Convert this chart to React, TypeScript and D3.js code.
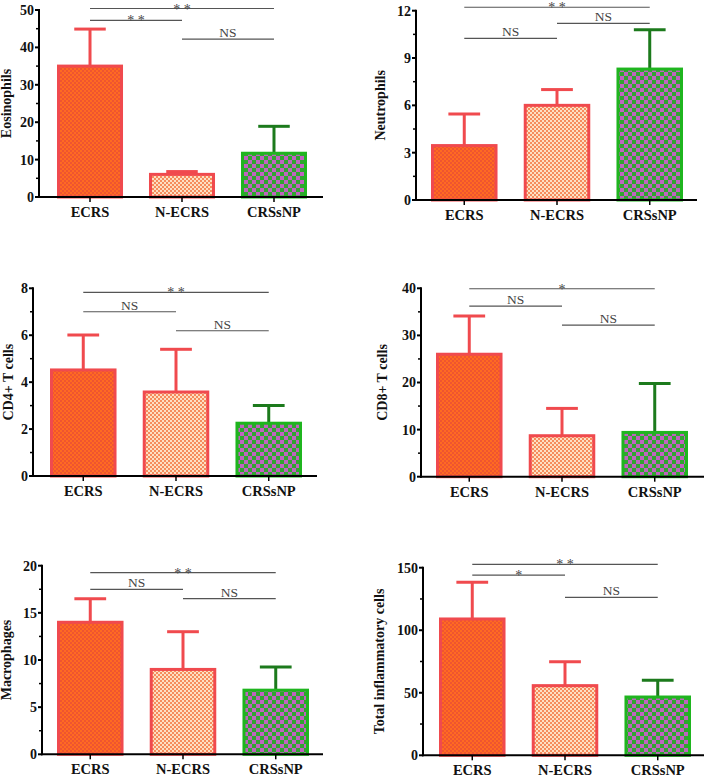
import React from 'react';
import * as d3 from 'd3';

const categories = ['ECRS', 'N-ECRS', 'CRSsNP'];

const panelTitles = ['Eosinophils', 'Neutrophils', 'CD4+ T cells', 'CD8+ T cells', 'Macrophages', 'Total inflammatory cells'];

const eosMeans = [35.0, 6.05, 11.7];
const eosSD = [9.9, 0.75, 7.2];
const eosTicks = [0, 10, 20, 30, 40, 50];

const neuMeans = [3.45, 6.0, 8.3];
const neuSD = [2.0, 1.0, 2.5];
const neuTicks = [0, 3, 6, 9, 12];

const cd4Means = [4.52, 3.58, 2.25];
const cd4SD = [1.49, 1.82, 0.76];
const cd4Ticks = [0, 2, 4, 6, 8];

const cd8Means = [26.0, 8.7, 9.4];
const cd8SD = [8.1, 5.8, 10.4];
const cd8Ticks = [0, 10, 20, 30, 40];

const macMeans = [14.0, 9.0, 6.8];
const macSD = [2.5, 4.0, 2.45];
const macTicks = [0, 5, 10, 15, 20];

const totMeans = [109, 55.7, 46.6];
const totSD = [29.3, 19.1, 13.4];
const totTicks = [0, 50, 100, 150];

// significance brackets: [from group, to group, label, level in data units]
const eosSig: [number, number, string, number][] = [[0, 2, '* *', 50.4], [0, 1, '* *', 47.2], [1, 2, 'NS', 42.2]];
const neuSig: [number, number, string, number][] = [[0, 2, '* *', 12.22], [1, 2, 'NS', 11.2], [0, 1, 'NS', 10.25]];
const cd4Sig: [number, number, string, number][] = [[0, 2, '* *', 7.83], [0, 1, 'NS', 7.0], [1, 2, 'NS', 6.19]];
const cd8Sig: [number, number, string, number][] = [[0, 2, '*', 39.9], [0, 1, 'NS', 36.2], [1, 2, 'NS', 32.2]];
const macSig: [number, number, string, number][] = [[0, 2, '* *', 19.26], [0, 1, 'NS', 17.5], [1, 2, 'NS', 16.5]];
const totSig: [number, number, string, number][] = [[0, 2, '* *', 152.7], [0, 1, '*', 144.1], [1, 2, 'NS', 126.3]];

const panelMeans = [eosMeans, neuMeans, cd4Means, cd8Means, macMeans, totMeans];
const panelSD = [eosSD, neuSD, cd4SD, cd8SD, macSD, totSD];
const panelTicks = [eosTicks, neuTicks, cd4Ticks, cd8Ticks, macTicks, totTicks];
const panelSig = [eosSig, neuSig, cd4Sig, cd8Sig, macSig, totSig];

// layout (pixels)
const layouts = [
  { axisX: 39, axisEnd: 323, yTop: 10, yBottom: 197, barStart: 57, barEnd: 307, labelX: 11 },
  { axisX: 416, axisEnd: 697, yTop: 10.7, yBottom: 200, barStart: 431, barEnd: 683, labelX: 385 },
  { axisX: 33, axisEnd: 317, yTop: 288.3, yBottom: 476, barStart: 50, barEnd: 302, labelX: 13 },
  { axisX: 421, axisEnd: 704, yTop: 288.3, yBottom: 476.7, barStart: 436, barEnd: 688, labelX: 387 },
  { axisX: 42, axisEnd: 323, yTop: 565.7, yBottom: 754.3, barStart: 57, barEnd: 309, labelX: 11 },
  { axisX: 423, axisEnd: 704, yTop: 567.7, yBottom: 755.3, barStart: 439, barEnd: 691, labelX: 384 },
];

const FONT = "'Liberation Serif', 'Times New Roman', serif";
const fills = ['url(#patECRS)', 'url(#patNECRS)', 'url(#patCRSsNP)'];
const strokes = ['#f04a4e', '#f04a4e', '#1fb51f'];
const errColors = ['#f04a4e', '#f04a4e', '#1c7a1c'];
const SIG_COLOR = '#555';

function Panel({ idx }: { idx: number }) {
  const L = layouts[idx];
  const means = panelMeans[idx];
  const sd = panelSD[idx];
  const ticks = panelTicks[idx];
  const sigs = panelSig[idx];
  const yMax = ticks[ticks.length - 1];
  const y = d3.scaleLinear().domain([0, yMax]).range([L.yBottom, L.yTop]);
  const x = d3.scaleBand<string>().domain(categories).range([L.barStart + 1.5, L.barEnd - 1.5]).paddingInner(0.315).paddingOuter(0);
  const bw = x.bandwidth();
  const step = ticks[1] - ticks[0];
  const minor = ticks.slice(0, -1).map((t) => t + step / 2);
  const cx = (i: number) => (x(categories[i]) as number) + bw / 2;

  return (
    <g>
      {categories.map((c, i) => (
        <g key={c}>
          <line x1={cx(i)} x2={cx(i)} y1={y(means[i])} y2={y(means[i] + sd[i])} stroke={errColors[i]} strokeWidth={3} />
          <line x1={cx(i) - bw * 0.25} x2={cx(i) + bw * 0.25} y1={y(means[i] + sd[i])} y2={y(means[i] + sd[i])} stroke={errColors[i]} strokeWidth={3} />
          <rect x={x(c)} y={y(means[i])} width={bw} height={y(0) - y(means[i])} fill={fills[i]} stroke={strokes[i]} strokeWidth={3} />
        </g>
      ))}
      <line x1={L.axisX} x2={L.axisX} y1={L.yTop - 1} y2={L.yBottom + 1} stroke="#000" strokeWidth={2} />
      {ticks.map((t) => (
        <g key={'t' + t}>
          <line x1={L.axisX - 4} x2={L.axisX} y1={y(t)} y2={y(t)} stroke="#000" strokeWidth={2} />
          <text x={L.axisX - 5} y={y(t)} dy="0.35em" textAnchor="end" fontFamily={FONT} fontWeight="bold" fontSize={14} fill="#111">{t}</text>
        </g>
      ))}
      {minor.map((t) => (
        <line key={'m' + t} x1={L.axisX - 3} x2={L.axisX} y1={y(t)} y2={y(t)} stroke="#000" strokeWidth={1.5} />
      ))}
      <line x1={L.axisX - 1} x2={L.axisEnd} y1={L.yBottom} y2={L.yBottom} stroke="#000" strokeWidth={2} />
      {categories.map((c, i) => (
        <g key={'x' + c}>
          <line x1={cx(i)} x2={cx(i)} y1={L.yBottom} y2={L.yBottom + 5} stroke="#000" strokeWidth={1.5} />
          <text x={cx(i)} y={L.yBottom + 20} textAnchor="middle" fontFamily={FONT} fontWeight="bold" fontSize={14.5} fill="#111">{c}</text>
        </g>
      ))}
      <text transform={`translate(${L.labelX},${(L.yTop + L.yBottom) / 2}) rotate(-90)`} textAnchor="middle" fontFamily={FONT} fontWeight="bold" fontSize={14} fill="#111">{panelTitles[idx]}</text>
      {sigs.map(([a, b, label, lvl], k) => {
        const yy = y(lvl);
        const mid = (cx(a) + cx(b)) / 2;
        const isStar = label.includes('*');
        return (
          <g key={'s' + k}>
            <line x1={cx(a)} x2={cx(b)} y1={yy} y2={yy} stroke={SIG_COLOR} strokeWidth={1.2} />
            <text x={mid} y={isStar ? yy + 5 : yy - 2} textAnchor="middle" fontFamily={FONT} fontSize={isStar ? 14 : 13.5} fill="#444">{label}</text>
          </g>
        );
      })}
    </g>
  );
}

export default function App() {
  return (
    <svg width={708} height={777} style={{ position: 'absolute', left: 0, top: 0, display: 'block', background: '#fff' }}>
      <defs>
        <pattern id="patECRS" patternUnits="userSpaceOnUse" width={4} height={4}>
          <rect width={4} height={4} fill="#ff6a22" />
          <rect width={2} height={2} fill="#ef5530" />
          <rect x={2} y={2} width={2} height={2} fill="#ef5530" />
        </pattern>
        <pattern id="patNECRS" patternUnits="userSpaceOnUse" width={4} height={4}>
          <rect width={4} height={4} fill="#fde0c4" />
          <rect width={2} height={2} fill="#f68c5c" />
          <rect x={2} y={2} width={2} height={2} fill="#f68c5c" />
        </pattern>
        <pattern id="patCRSsNP" patternUnits="userSpaceOnUse" width={8} height={8}>
          <rect width={8} height={8} fill="#2fa52f" />
          <rect width={4} height={4} fill="#c062c0" />
          <rect x={4} y={4} width={4} height={4} fill="#c062c0" />
        </pattern>
      </defs>
      {layouts.map((_, i) => (
        <Panel key={i} idx={i} />
      ))}
    </svg>
  );
}
